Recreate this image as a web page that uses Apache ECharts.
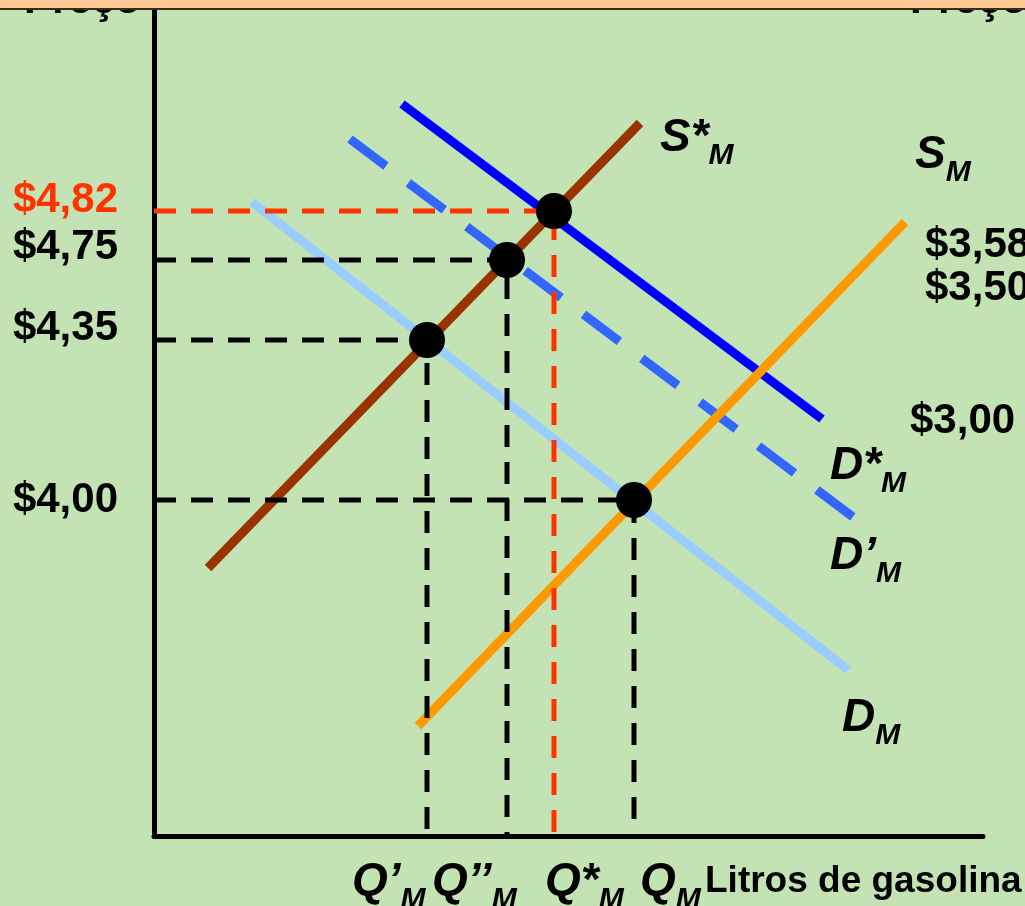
<!DOCTYPE html>
<html><head><meta charset="utf-8">
<script src="https://cdn.jsdelivr.net/npm/echarts@6/dist/echarts.min.js"></script>
<style>html,body{margin:0;padding:0;background:#c4e3b5}#c{width:1025px;height:906px}</style>
</head><body><div id="c"></div>
<script>
// ---- Data (abstract diagram units: quantity on x, price position on y) ----
const curveD      = [[98,634],[694,166]];
const curveDPrime = [[196,697],[699,319]];
const curveDStar  = [[248,732],[668,417]];
const curveSStar  = [[54,268],[486,713]];
const curveS      = [[264,110],[751,614]];
const equilibriumQ = [400,353,273,480];
const equilibriumP = [625,576,496,336];
const priceLabels = ['$4,82','$4,75','$4,35','$4,00'];
const priceLabelY = [636,589,508,336];
const rightPriceLabels = ['$3,58','$3,50','$3,00'];
const rightPricePos = [[771,591],[771,548],[756,415]];
const curveLabels = [['S*','M'],['S','M'],['D*','M'],['D’','M'],['D','M']];
const curveLabelPos = [[506,698],[761,681],[676,370],[676,280],[688,118]];
const qLabels = [['Q’','M'],['Q’’','M'],['Q*','M'],['Q','M']];
const qLabelPos = [[198,-46],[278,-46],[391,-46],[486,-46]];
const axisTitleX = 'Litros de gasolina';
const axisTitleXPos = [551,-46];
const axisTitleY = 'Preço';
const axisTitleYPos = [[-130,835],[756,835]];

const FONT = 'Liberation Sans, Arial, sans-serif';
const chart = echarts.init(document.getElementById('c'));

function curve(data, color, dashed) {
  return {type:'line', data, symbol:'none', silent:true, z:2, animation:false,
    lineStyle:{color, width:9, cap:'butt', type: dashed ? [45,28] : 'solid'}};
}
const guides = equilibriumQ.map((q,i)=>({
  type:'line', symbol:'none', silent:true, z:3, animation:false,
  data:[[0,equilibriumP[i]],[q,equilibriumP[i]],[q,0]],
  lineStyle:{color: i===0 ? '#ff3300' : '#000', width:5, type:[22,15], cap:'butt'}
}));

const rich = {
  m:{fontFamily:FONT, fontSize:46, fontStyle:'italic', fontWeight:'bold', color:'#000', lineHeight:65},
  s:{fontFamily:FONT, fontSize:30, fontStyle:'italic', fontWeight:'bold', color:'#000', lineHeight:30, verticalAlign:'bottom'},
  p:{fontFamily:FONT, fontSize:42, fontWeight:'bold', color:'#000'},
  r:{fontFamily:FONT, fontSize:42, fontWeight:'bold', color:'#ff3300'},
  t:{fontFamily:FONT, fontSize:37, fontWeight:'bold', color:'#000'}
};
const textItems = [];
curveLabels.forEach((l,i)=>textItems.push({value:curveLabelPos[i], label:{formatter:`{m|${l[0]}}{s|${l[1]}}`}}));
qLabels.forEach((l,i)=>textItems.push({value:qLabelPos[i], label:{formatter:`{m|${l[0]}}{s|${l[1]}}`}}));
rightPriceLabels.forEach((l,i)=>textItems.push({value:rightPricePos[i], label:{formatter:`{p|${l}}`}}));
priceLabels.forEach((l,i)=>textItems.push({value:[-36,priceLabelY[i]], label:{align:'right', formatter: i===0 ? `{r|${l}}` : `{p|${l}}`}}));
textItems.push({value:axisTitleXPos, label:{formatter:`{t|${axisTitleX}}`}});
axisTitleYPos.forEach(p=>textItems.push({value:p, label:{formatter:`{p|${axisTitleY}}`}}));

chart.setOption({
  backgroundColor:'#c4e3b5',
  animation:false,
  grid:{left:154, right:42, top:10, bottom:70},
  xAxis:{type:'value', min:0, max:829, splitLine:{show:false}, axisTick:{show:false}, axisLabel:{show:false},
    axisLine:{lineStyle:{color:'#000', width:5}}},
  yAxis:{type:'value', min:0, max:826, splitLine:{show:false}, axisTick:{show:false}, axisLabel:{show:false},
    axisLine:{lineStyle:{color:'#000', width:5}}},
  graphic:[
    {type:'rect', left:0, top:0, z:100, shape:{width:1025, height:9}, style:{fill:'#ffc994'}},
    {type:'rect', left:0, top:8, z:101, shape:{width:1025, height:2}, style:{fill:'#3a2a1a'}}
  ],
  series:[
    curve(curveD,'#99ccff',false),
    curve(curveDPrime,'#3366ff',true),
    curve(curveDStar,'#0000ff',false),
    curve(curveSStar,'#993300',false),
    curve(curveS,'#ff9900',false),
    ...guides,
    {type:'scatter', z:4, silent:true, symbolSize:36, itemStyle:{color:'#000', opacity:1},
      data: equilibriumQ.map((q,i)=>[q,equilibriumP[i]])},
    {type:'scatter', z:5, silent:true, clip:false, symbolSize:0, data:textItems,
      itemStyle:{opacity:1},
      label:{show:true, opacity:1, position:[0,0], align:'left', verticalAlign:'middle', rich}}
  ]
});
</script></body></html>
